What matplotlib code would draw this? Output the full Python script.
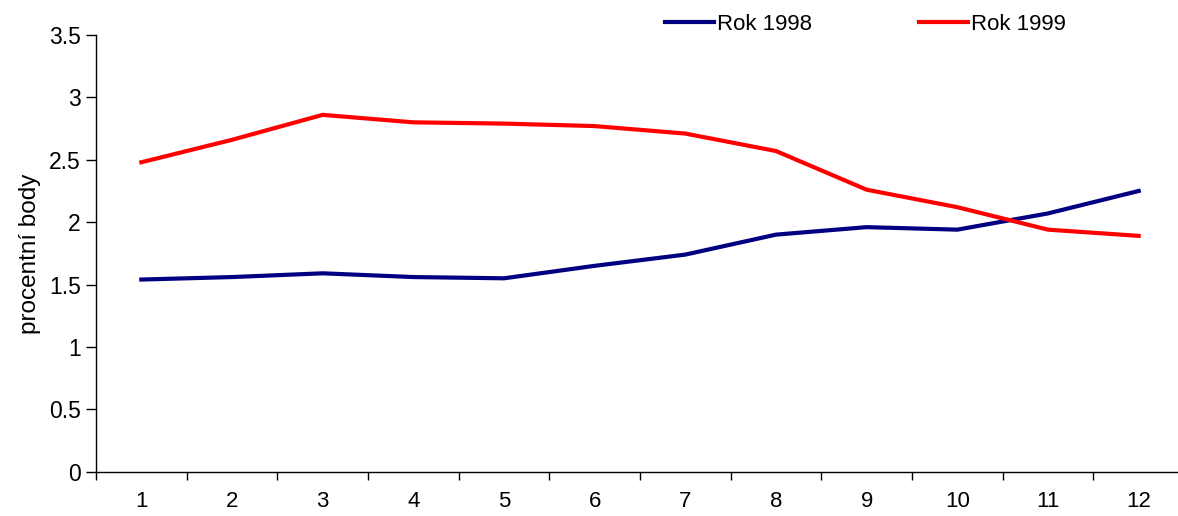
import matplotlib
matplotlib.use('Agg')
import matplotlib.pyplot as plt
import numpy as np

plt.rcParams['font.family'] = ['Liberation Sans', 'DejaVu Sans']

months = [1, 2, 3, 4, 5, 6, 7, 8, 9, 10, 11, 12]
rok_1998 = [1.54, 1.56, 1.59, 1.56, 1.55, 1.65, 1.74, 1.90, 1.96, 1.94, 2.07, 2.25]
rok_1999 = [2.48, 2.66, 2.86, 2.80, 2.79, 2.77, 2.71, 2.57, 2.26, 2.12, 1.94, 1.89]
series_names = ['Rok 1998', 'Rok 1999']
y_ticks = [0, 0.5, 1, 1.5, 2, 2.5, 3, 3.5]

fig = plt.figure(figsize=(11.78, 5.16), dpi=100)
ax = fig.add_axes([96/1178, 44.3/516, 1088/1178, 436.7/516])

x = np.arange(len(months))
ax.plot(x, rok_1998, color='#000080', lw=3, label=series_names[0])
ax.plot(x, rok_1999, color='#FF0000', lw=3, label=series_names[1])

ax.set_xlim(-0.5, len(months) - 0.5)
ax.set_ylim(0, 3.5)
ax.set_yticks(y_ticks)
ax.set_yticklabels(['0', '0.5', '1', '1.5', '2', '2.5', '3', '3.5'])
ax.set_xticks(x)
ax.set_xticklabels([str(m) for m in months])
ax.set_xticks(np.arange(len(months) + 1) - 0.5, minor=True)
ax.tick_params(axis='x', which='major', length=0, pad=14, labelsize=16)
ax.tick_params(axis='x', which='minor', length=6, width=1, direction='out')
ax.tick_params(axis='y', length=7, width=1, direction='out', labelsize=16.5, pad=4)

for s in ['top', 'right']:
    ax.spines[s].set_visible(False)
for s in ['left', 'bottom']:
    ax.spines[s].set_linewidth(1)

ax.set_ylabel('procentní body', fontsize=17.5, labelpad=6)

fig.legend(loc='center left', bbox_to_anchor=(665/1178, 1 - 24/516), ncol=2,
           frameon=False, fontsize=16, handlelength=2.2, handletextpad=0.15,
           columnspacing=4.8, borderaxespad=0, borderpad=0)

fig.savefig('out.png', dpi=100)
